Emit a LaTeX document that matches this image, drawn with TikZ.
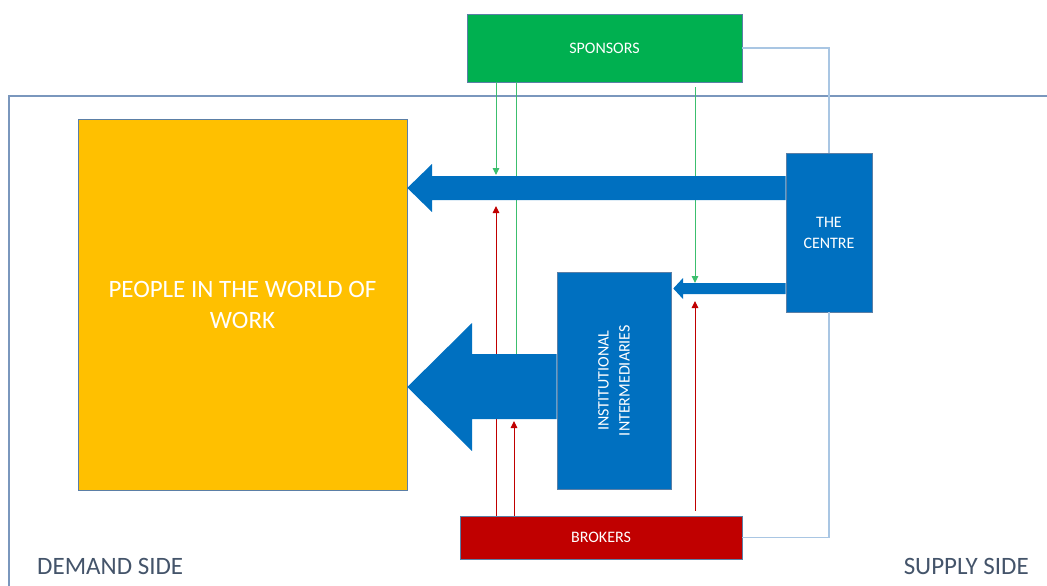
\documentclass[tikz,border=0pt]{standalone}
\usepackage{fontspec}
\setmainfont{Carlito}
\usetikzlibrary{arrows.meta,calc}

\definecolor{cblue}{HTML}{0070C0}
\definecolor{cgreen}{HTML}{00B050}
\definecolor{cred}{HTML}{C00000}
\definecolor{cyellow}{HTML}{FFC000}
\definecolor{cedge}{HTML}{5B7FA6}
\definecolor{cframe}{HTML}{7A97BD}
\definecolor{clink}{HTML}{A9C6E3}
\definecolor{cgline}{HTML}{3CBF6E}
\definecolor{clabel}{HTML}{44546A}

\tikzset{
  box/.style={draw=cedge, line width=0.6pt, inner sep=0pt, text=white, align=center,
              font=\fontsize{16}{21}\selectfont},
  blockarrow/.style={fill=cblue, draw=none},
  gline/.style={draw=cgline, line width=1pt},
  rline/.style={draw=cred, line width=1pt},
  tipped/.style={-{Triangle[length=7pt,width=6.5pt]}},
  linkline/.style={draw=clink, line width=1.2pt},
  frameline/.style={draw=cframe, line width=1.2pt},
  sidelabel/.style={text=clabel, inner sep=0pt, font=\fontsize{25}{30}\selectfont}
}

\begin{document}
\begin{tikzpicture}[x=1pt, y=-1pt]
\useasboundingbox (0,0) rectangle (1047,586);

% outer frame of the market
\draw[frameline] (9,586) |- (1047,96);

% main boxes
\node[box, fill=cgreen, minimum width=275pt, minimum height=68pt] (sponsors) at (604.5,48) {SPONSORS};
\node[box, fill=cyellow, minimum width=329pt, minimum height=371pt,
      font=\fontsize{25}{31}\selectfont] (people) at (242.5,304.5) {PEOPLE IN THE WORLD OF\\WORK};
\node[box, fill=cblue, minimum width=86pt, minimum height=159pt] (centre) at (829,232.5) {THE\\CENTRE};
\node[box, fill=cblue, minimum width=114pt, minimum height=217pt] (inter) at (614,380.5) {};
\node[text=white, align=center, rotate=90, inner sep=0pt,
      font=\fontsize{16}{21}\selectfont] (interlabel) at (inter.center) {INSTITUTIONAL\\INTERMEDIARIES};
\node[box, fill=cred, minimum width=282pt, minimum height=43pt] (brokers) at (601,537.5) {BROKERS};

% links from sponsors and brokers to the centre
\draw[linkline] (sponsors.east) -| (centre.north);
\draw[linkline] (centre.south) |- (brokers.east);

% reference points on the block arrows
\coordinate (a1top) at (496,175);
\coordinate (a1bot) at (496,201);
\coordinate (a2top) at (695,283);
\coordinate (a2bot) at (695,294);
\coordinate (a3top) at (516,354);
\coordinate (a3bot) at (514,420);

% sponsor funding lines
\draw[gline, tipped] (a1top |- sponsors.south) -- (a1top);
\draw[gline] (a3top |- sponsors.south) -- (a3top);
\draw[gline, tipped, shorten <=5pt] (a2top |- sponsors.south) -- (a2top);

% broker lines
\draw[rline, tipped, shorten >=5pt] (a1bot |- brokers.north) -- (a1bot);
\draw[rline, tipped, shorten >=1pt] (a3bot |- brokers.north) -- (a3bot);
\draw[rline, tipped, shorten <=5pt, shorten >=7pt] (a2bot |- brokers.north) -- (a2bot);

% block arrows: centre to people, centre to intermediaries, intermediaries to people
\fill[blockarrow] (centre.west |- 0,176) -- (432,176) -- (432,164) -- (people.east |- 0,188)
   -- (432,212) -- (432,200) -- (centre.west |- 0,200) -- cycle;
\fill[blockarrow] (centre.west |- 0,283) -- (683,283) -- (683,278) -- ($(inter.east |- 0,288.5)+(2,0)$)
   -- (683,299) -- (683,294) -- (centre.west |- 0,294) -- cycle;
\fill[blockarrow] (inter.west |- 0,354) -- (472,354) -- (472,323) -- (people.east |- 0,387)
   -- (472,451) -- (472,419) -- (inter.west |- 0,419) -- cycle;

% side labels
\node[sidelabel, anchor=base west] (demand) at (37,574) {DEMAND SIDE};
\node[sidelabel, anchor=base east] (supply) at (1029,574) {SUPPLY SIDE};
\end{tikzpicture}
\end{document}
